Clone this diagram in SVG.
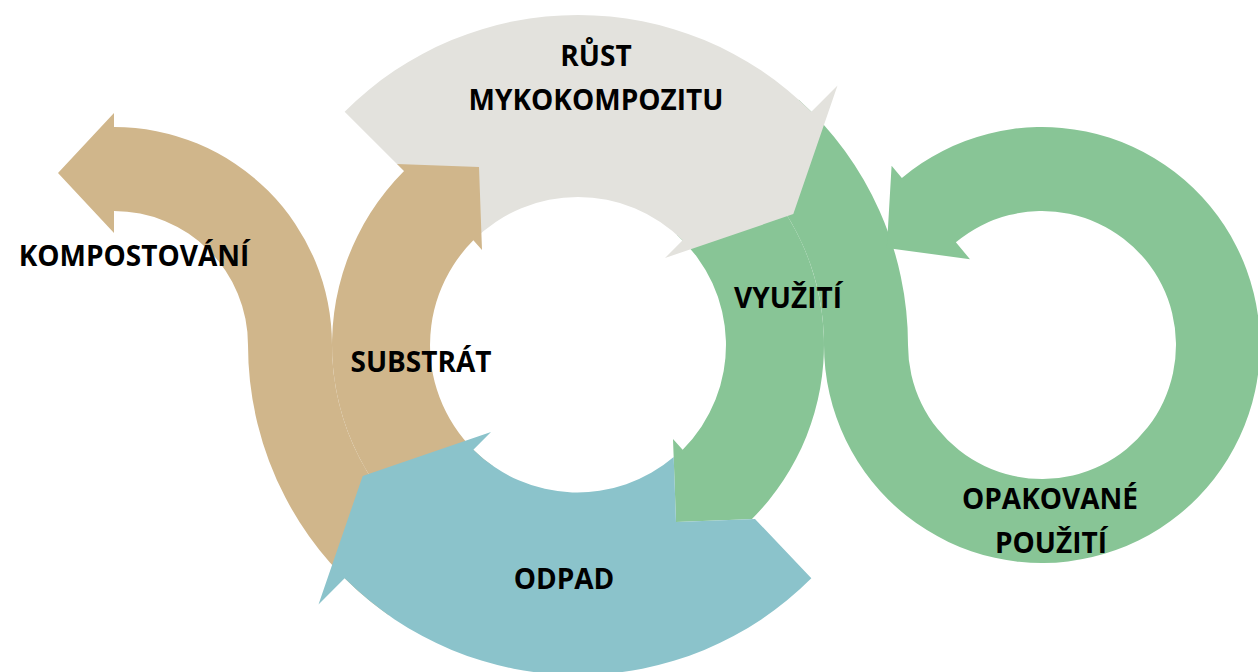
<svg xmlns="http://www.w3.org/2000/svg" width="1258" height="672" viewBox="0 0 1258 672">
<style>
.lbl{font-family:"Open Sans","Noto Sans","Liberation Sans",sans-serif;font-weight:700;font-size:28px;fill:#000;text-anchor:middle}
.grey{fill:#E3E2DD}
.tan{fill:#D0B68B}
.blue{fill:#8BC3CB}
.green{fill:#88C596}
</style>
<rect width="1258" height="672" fill="#FFFFFF"/>
<g id="connectors">
<g id="vyuziti-arrow">
<path class="green" d="M 742.6,162.2 A 246 246 0 0 1 751.95,518.95 L 755,519 L 676,522 L 673,439 L 682.65,449.65 A 148 148 0 0 0 677,235 Z"/>
</g>
<g id="opakovane-arrow">
<path class="green" d="M 798.8,99.8 A 330 330 0 0 1 908,345 L 824,345 A 246 246 0 0 0 742.6,162.2 Z"/>
<path class="green" d="M 908,345 A 134 134 0 1 0 955.87,242.35 L 970,259.2 L 886.8,248 L 891.6,165.75 L 901.87,178 A 218 218 0 1 1 824,345 Z"/>
</g>
<g id="rust-arrow">
<path class="grey" d="M 344.65,111.65 A 330 330 0 0 1 811.35,111.65 L 837.5,85.5 L 793.3,214.1 L 665,258 L 682.65,240.35 A 148 148 0 0 0 473.35,240.35 Z"/>
</g>
<g id="kompostovani-arrow">
<path class="tan" d="M 436.9,546.5 L 388.7,615.3 A 330 330 0 0 1 248,345 A 134 134 0 0 0 114,211 L 114,233 L 58,173 L 114,113 L 114,127 A 218 218 0 0 1 332,345 A 246 246 0 0 0 436.9,546.5 Z"/>
</g>
<g id="substrat-arrow">
<path class="tan" d="M 436.9,546.5 A 246 246 0 0 1 404.05,171.05 L 397,164 L 479,167 L 482,250 L 473.35,240.35 A 148 148 0 0 0 493.1,466.2 Z"/>
</g>
<g id="odpad-arrow">
<path class="blue" d="M 811.35,578.35 L 755,519 L 676,522 L 673.7,457 A 148 148 0 0 1 473.35,449.65 L 491,432 L 362.7,475.9 L 318.5,604.5 L 344.65,578.35 A 330 330 0 0 0 811.35,578.35 Z"/>
</g>
</g>
<g id="node-rust"><text class="lbl" x="596" y="66">RŮST</text><text class="lbl" x="596" y="110">MYKOKOMPOZITU</text></g>
<g id="node-kompostovani"><text class="lbl" x="134" y="266">KOMPOSTOVÁNÍ</text></g>
<g id="node-substrat"><text class="lbl" x="421" y="372">SUBSTRÁT</text></g>
<g id="node-vyuziti"><text class="lbl" x="788" y="308">VYUŽITÍ</text></g>
<g id="node-odpad"><text class="lbl" x="564" y="589">ODPAD</text></g>
<g id="node-opakovane"><text class="lbl" x="1050" y="509">OPAKOVANÉ</text><text class="lbl" x="1051" y="553">POUŽITÍ</text></g>
</svg>
